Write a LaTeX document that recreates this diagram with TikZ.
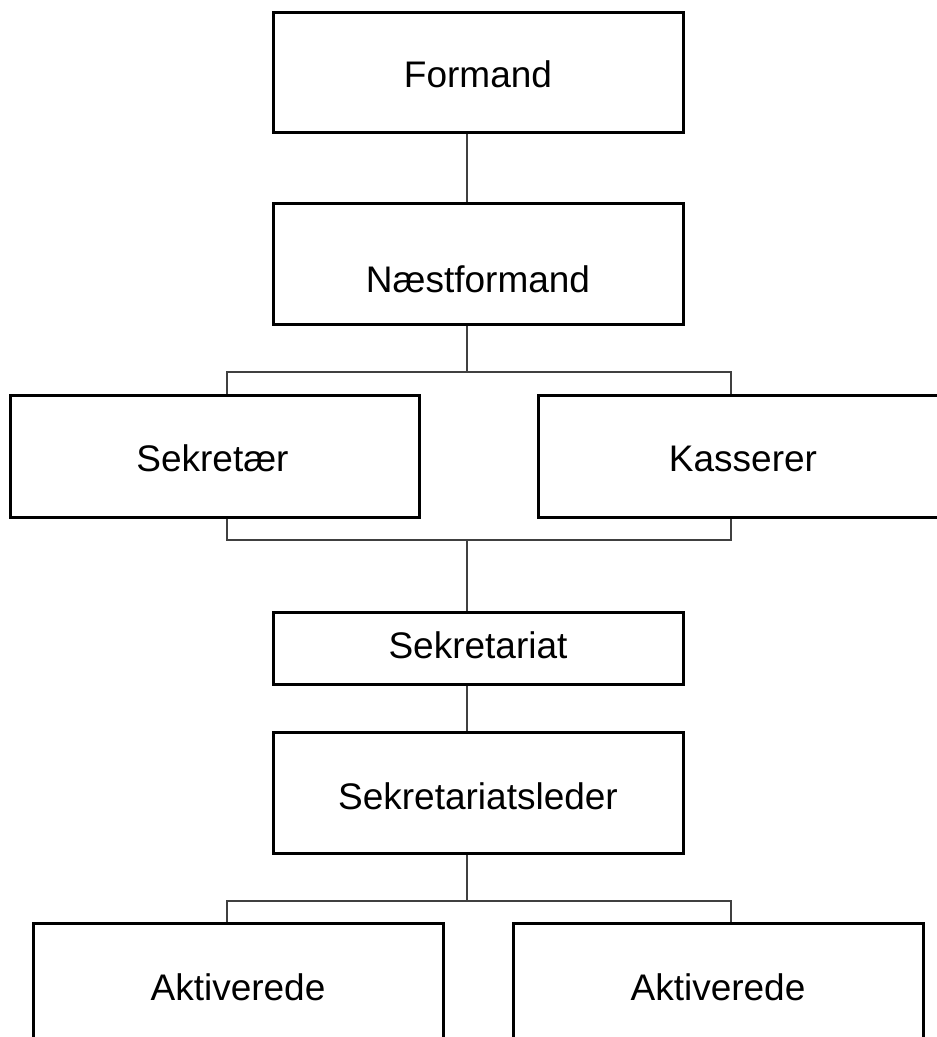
\documentclass[tikz,border=0pt]{standalone}
\usepackage{fontspec}
\setmainfont{Liberation Sans}
\begin{document}
\begin{tikzpicture}[x=1pt,y=-1pt,
  box/.style={draw=black,line width=3pt,rectangle,minimum width=410pt,inner sep=0pt},
  lbl/.style={inner sep=0pt,text height=26.5pt,text depth=0pt,font=\fontsize{37}{41}\selectfont},
  conn/.style={draw=black!75,line width=1.5pt}]
\useasboundingbox (0,0) rectangle (937,1037);
\clip (0,0) rectangle (937,1037);
% boxes
\node[box,minimum height=120pt] (formand) at (478,72) {};
\node[box,minimum height=121pt] (naest) at (478,263.5) {};
\node[box,minimum width=409pt,minimum height=122pt] (sekr) at (214.5,456) {};
\node[box,minimum height=122pt] (kass) at (743,456) {};
\node[box,minimum height=72pt] (sekrt) at (478,648) {};
\node[box,minimum height=121pt] (leder) at (478,792.5) {};
\node[box,minimum height=127pt] (akt1) at (238,986.5) {};
\node[box,minimum height=127pt] (akt2) at (718,986.5) {};
% labels
\node[lbl] (tformand) at (478,74) {Formand};
\node[lbl] (tnaest) at (478,279.5) {Næstformand};
\node[lbl] (tsekr) at (212.5,458) {Sekretær};
\node[lbl] (tkass) at (743,458) {Kasserer};
\node[lbl] (tsekrt) at (478,645) {Sekretariat};
\node[lbl] (tleder) at (478,796.5) {Sekretariatsleder};
\node[lbl] (takt1) at (238,987.5) {Aktiverede};
\node[lbl] (takt2) at (718,987.5) {Aktiverede};
% connector coordinates
\coordinate (spine) at (467,0);
\coordinate (busA) at (0,372);
\coordinate (busB) at (0,540);
\coordinate (busC) at (0,901);
\coordinate (colL) at (227,0);
\coordinate (colR) at (731,0);
% connectors
\draw[conn] (formand.south -| spine) -- (naest.north -| spine);
\draw[conn] (naest.south -| spine) -- (busA -| spine);
\draw[conn] (sekr.north -| colL) -- (busA -| colL) -- (busA -| colR) -- (kass.north -| colR);
\draw[conn] (sekr.south -| colL) -- (busB -| colL) -- (busB -| colR) -- (kass.south -| colR);
\draw[conn] (busB -| spine) -- (sekrt.north -| spine);
\draw[conn] (sekrt.south -| spine) -- (leder.north -| spine);
\draw[conn] (leder.south -| spine) -- (busC -| spine);
\draw[conn] (akt1.north -| colL) -- (busC -| colL) -- (busC -| colR) -- (akt2.north -| colR);
\end{tikzpicture}
\end{document}
